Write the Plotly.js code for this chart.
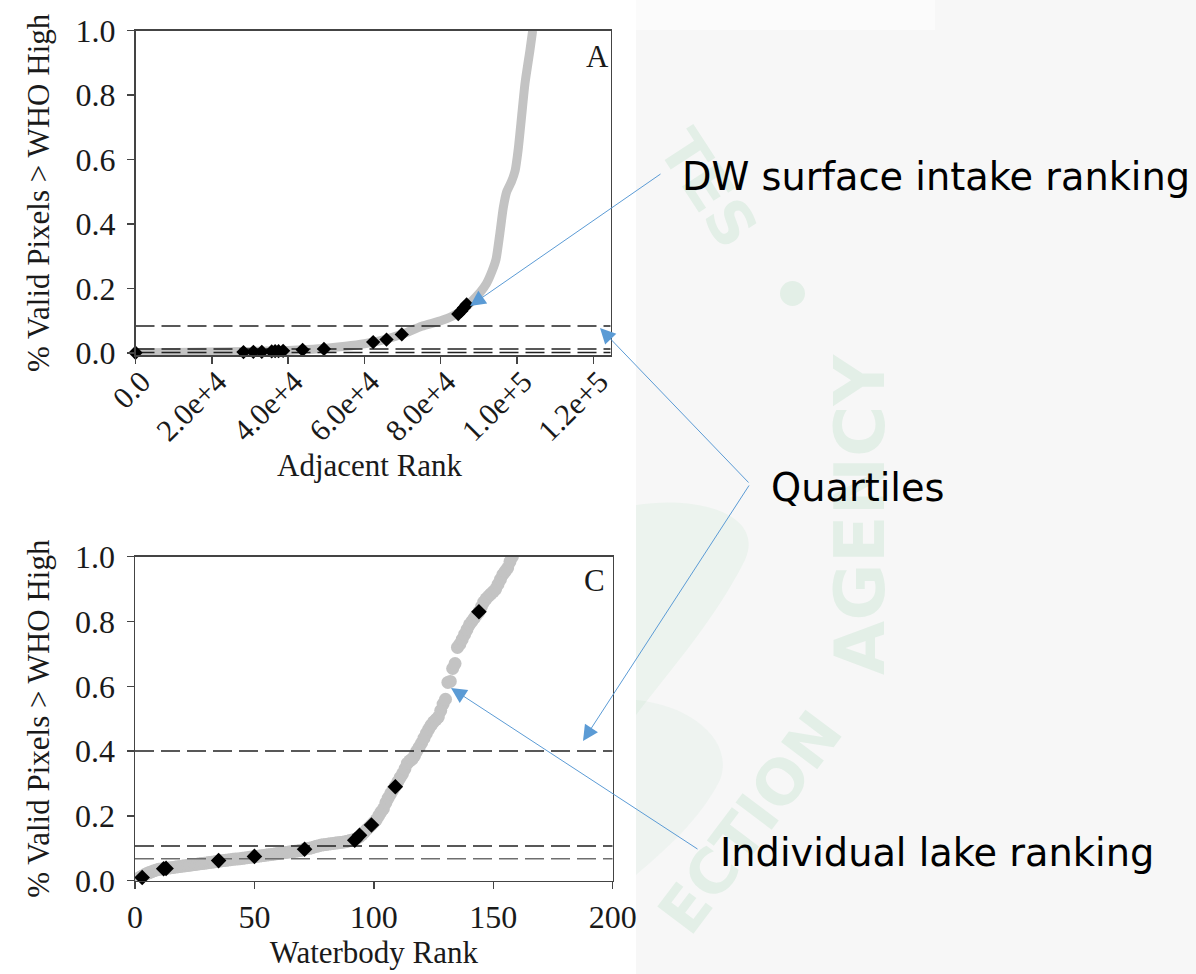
<!DOCTYPE html>
<html>
<head>
<meta charset="utf-8">
<script src="https://cdn.plot.ly/plotly-3.0.1.min.js"></script>
<style>html,body{margin:0;padding:0;background:#fff;}#chart{width:1196px;height:974px;}</style>
</head>
<body>
<div id="chart"></div>
<script>
// ---------- Panel A data (Adjacent Rank) ----------
const adjRankCurve = [0, 10000, 20000, 30000, 40000, 45000, 50000, 55000, 60000, 65000, 70000, 75000, 80000, 83000, 86000, 88500, 90500, 92000, 93500, 94500, 95500, 96400, 97300, 98500, 99500, 100300, 101200, 102100, 103400, 104100];
const adjValCurve  = [0.000, 0.001, 0.002, 0.004, 0.007, 0.010, 0.014, 0.020, 0.028, 0.040, 0.058, 0.082, 0.099, 0.113, 0.135, 0.164, 0.190, 0.215, 0.255, 0.290, 0.370, 0.450, 0.500, 0.530, 0.565, 0.630, 0.733, 0.837, 0.940, 1.000];
const adjIntakeRank = [0, 28300, 30900, 33100, 35700, 36600, 37500, 38700, 43800, 49400, 62300, 65800, 69800, 84600, 85400, 86100, 86800];
const adjIntakeVal  = [0, 0.002, 0.003, 0.003, 0.004, 0.005, 0.005, 0.006, 0.009, 0.012, 0.033, 0.041, 0.057, 0.120, 0.130, 0.140, 0.150];
const adjQuartiles = [0.001, 0.012, 0.083];
const adjTickVals = [0, 20000, 40000, 60000, 80000, 100000, 120000];
const adjTickText = ['0.0', '2.0e+4', '4.0e+4', '6.0e+4', '8.0e+4', '1.0e+5', '1.2e+5'];
const adjXMax = 124560;

// ---------- Panel C data (Waterbody Rank) ----------
const wbVal = [
 0.005, 0.010, 0.014, 0.018, 0.022, 0.025, 0.028, 0.031, 0.033, 0.035,
 0.036, 0.037, 0.038, 0.039, 0.040, 0.041, 0.042, 0.043, 0.044, 0.045,
 0.046, 0.047, 0.048, 0.049, 0.050, 0.051, 0.052, 0.053, 0.054, 0.055,
 0.056, 0.057, 0.058, 0.059, 0.060, 0.061, 0.062, 0.063, 0.064, 0.065,
 0.066, 0.067, 0.067, 0.068, 0.069, 0.070, 0.071, 0.072, 0.073, 0.074,
 0.075, 0.076, 0.077, 0.078, 0.079, 0.080, 0.081, 0.082, 0.083, 0.084,
 0.085, 0.086, 0.087, 0.088, 0.089, 0.090, 0.091, 0.092, 0.093, 0.095,
 0.097, 0.099, 0.100, 0.102, 0.104, 0.106, 0.108, 0.110, 0.111, 0.112,
 0.113, 0.114, 0.115, 0.116, 0.117, 0.118, 0.119, 0.120, 0.122, 0.124,
 0.126, 0.128, 0.131, 0.136, 0.142, 0.150, 0.158, 0.165, 0.172, 0.180,
 0.188, 0.200, 0.212, 0.222, 0.240, 0.255, 0.268, 0.280, 0.292, 0.305,
 0.318, 0.330, 0.345, 0.362, 0.370, 0.375, 0.385, 0.400, 0.412, 0.425,
 0.440, 0.455, 0.468, 0.480, 0.490, 0.497, 0.505, 0.525, 0.545, 0.560,
 0.612, 0.615, 0.655, 0.670, 0.720, 0.730, 0.745, 0.760, 0.775, 0.790,
 0.800, 0.810, 0.820, 0.830, 0.845, 0.860, 0.870, 0.878, 0.885, 0.892,
 0.900, 0.915, 0.930, 0.945, 0.955, 0.965, 0.985, 1.000];
const wbRank = wbVal.map((v, i) => i + 1);
const wbIntakeRank = [3, 12, 13, 35, 50, 71, 92, 94, 99, 109, 144];
const wbIntakeVal  = [0.010, 0.037, 0.038, 0.062, 0.075, 0.097, 0.125, 0.140, 0.172, 0.290, 0.830];
const wbQuartiles = [0.068, 0.107, 0.400];
const wbQuartileColors = ['#6e6e6e', '#222222', '#222222'];
const wbTickVals = [0, 50, 100, 150, 200];
const wbXMax = 200;

const yTickVals = [0, 0.2, 0.4, 0.6, 0.8, 1.0];
const yTickText = ['0.0', '0.2', '0.4', '0.6', '0.8', '1.0'];

// ---------- layout helpers (pixel -> paper) ----------
const W = 1196, H = 974;
const px = x => x / W;
const py = y => 1 - y / H;

const SERIF = 'Liberation Serif, Times New Roman, serif';
const SANS = 'DejaVu Sans, sans-serif';
const GREY = '#c3c3c3';
const BLUE = '#5b9bd5';
const WM = 'rgba(70,185,110,0.11)';

const traces = [];
// Panel A
traces.push({x: adjRankCurve, y: adjValCurve, xaxis: 'x', yaxis: 'y', mode: 'lines',
  line: {color: GREY, width: 9, shape: 'spline', smoothing: 0.6}, hoverinfo: 'skip'});
adjQuartiles.forEach(q => traces.push({x: [0, adjXMax], y: [q, q], xaxis: 'x', yaxis: 'y', mode: 'lines',
  line: {color: '#222', width: 1.5, dash: '19px,7px'}, hoverinfo: 'skip'}));
traces.push({x: adjIntakeRank, y: adjIntakeVal, xaxis: 'x', yaxis: 'y', mode: 'markers', cliponaxis: false,
  marker: {symbol: 'diamond', size: 11, color: '#000'}});
// Panel C
traces.push({x: wbRank, y: wbVal, xaxis: 'x2', yaxis: 'y2', mode: 'markers',
  marker: {symbol: 'circle', size: 13, color: GREY}, hoverinfo: 'skip'});
wbQuartiles.forEach((q, i) => traces.push({x: [0, wbXMax], y: [q, q], xaxis: 'x2', yaxis: 'y2', mode: 'lines',
  line: {color: wbQuartileColors[i], width: 1.5, dash: '19px,7px'}, hoverinfo: 'skip'}));
traces.push({x: wbIntakeRank, y: wbIntakeVal, xaxis: 'x2', yaxis: 'y2', mode: 'markers', cliponaxis: false,
  marker: {symbol: 'diamond', size: 12, color: '#000'}});

const axisCommon = {
  showline: true, linecolor: '#444', linewidth: 1.5, mirror: true,
  ticks: 'outside', ticklen: 7, tickcolor: '#444', tickwidth: 1.5,
  showgrid: false, zeroline: false,
  tickfont: {family: SERIF, size: 32, color: '#1a1a1a'}
};
const yTitle = {text: '% Valid Pixels > WHO High', font: {family: SERIF, size: 31, color: '#1a1a1a'}, standoff: 16};

function arrow(tx, ty, hx, hy) {
  return {x: px(hx), y: py(hy), xref: 'paper', yref: 'paper', ax: px(tx), ay: py(ty), axref: 'paper', ayref: 'paper',
    text: '', showarrow: true, arrowhead: 2, arrowsize: 3.1, arrowwidth: 1, arrowcolor: BLUE, standoff: 0, startstandoff: 0};
}
function text(t, x, y, font, xanchor, angle) {
  return {x: px(x), y: py(y), xref: 'paper', yref: 'paper', xanchor: xanchor || 'center', yanchor: 'middle',
    showarrow: false, text: t, textangle: angle || 0, font: font};
}
const labelFont = {family: SANS, size: 38.3, color: '#000'};
const serifFont = {family: SERIF, size: 31, color: '#1a1a1a'};
const wmFont = s => ({family: 'DejaVu Sans, sans-serif', size: s, color: WM, weight: 'bold'});

const layout = {
  width: W, height: H,
  margin: {l: 0, r: 0, t: 0, b: 0},
  paper_bgcolor: '#ffffff', plot_bgcolor: '#ffffff',
  showlegend: false,
  xaxis: Object.assign({}, axisCommon, {
    domain: [px(135.5), px(610.7)], range: [0, adjXMax], anchor: 'y',
    tickvals: adjTickVals, ticktext: adjTickText, tickangle: -45,
    ticklabelstandoff: -12, ticklabelshift: 6,
    tickfont: {family: SERIF, size: 30.5, color: '#1a1a1a'}
  }),
  yaxis: Object.assign({}, axisCommon, {
    domain: [py(355), py(30.7)], range: [-0.007, 1.0], anchor: 'x', ticklabelstandoff: 5,
    tickvals: yTickVals, ticktext: yTickText, title: yTitle
  }),
  xaxis2: Object.assign({}, axisCommon, {
    domain: [px(135), px(612.7)], range: [0, wbXMax], anchor: 'y2', ticklabelstandoff: 0,
    tickvals: wbTickVals, ticktext: wbTickVals.map(String),
    title: {text: 'Waterbody Rank', font: serifFont, standoff: 6}
  }),
  yaxis2: Object.assign({}, axisCommon, {
    domain: [py(880.7), py(556.7)], range: [0, 1.0], anchor: 'x2', ticklabelstandoff: 5,
    tickvals: yTickVals, ticktext: yTickText, title: yTitle
  }),
  shapes: [
    {type: 'rect', xref: 'paper', yref: 'paper', x0: px(636), x1: 1, y0: 0, y1: 1,
      fillcolor: '#f7f7f7', line: {width: 0}, layer: 'below'},
    {type: 'rect', xref: 'paper', yref: 'paper', x0: px(636), x1: px(935), y0: py(30), y1: 1,
      fillcolor: '#fbfbfb', line: {width: 0}, layer: 'below'},
    // faint watermark leaves and dot
    {type: 'path', xref: 'paper', yref: 'paper', layer: 'below', line: {width: 0}, fillcolor: 'rgba(70,185,110,0.06)',
      path: `M ${px(636)},${py(505)} C ${px(700)},${py(495)} ${px(765)},${py(515)} ${px(745)},${py(560)} C ${px(715)},${py(620)} ${px(670)},${py(670)} ${px(636)},${py(715)} Z`},
    {type: 'path', xref: 'paper', yref: 'paper', layer: 'below', line: {width: 0}, fillcolor: 'rgba(70,185,110,0.05)',
      path: `M ${px(636)},${py(700)} C ${px(690)},${py(705)} ${px(735)},${py(740)} ${px(720)},${py(780)} C ${px(700)},${py(820)} ${px(665)},${py(850)} ${px(636)},${py(875)} Z`},
    {type: 'circle', xref: 'paper', yref: 'paper', layer: 'below', line: {width: 0}, fillcolor: WM,
      x0: px(780), x1: px(805), y0: py(306), y1: py(281)}
  ],
  annotations: [
    text('TES', 708, 188, wmFont(60), 'center', 57),
    text('AGENCY', 860, 515, wmFont(70), 'center', -90),
    text('ECTION', 750, 822, wmFont(62), 'center', -53),
    text('A', 597, 57, serifFont),
    text('C', 594, 580, serifFont),
    text('Adjacent Rank', 370, 466, {family: SERIF, size: 31, color: '#1a1a1a'}),
    text('DW surface intake ranking', 680, 176, labelFont, 'left'),
    text('Quartiles', 769, 487, labelFont, 'left'),
    text('Individual lake ranking', 718, 852, labelFont, 'left'),
    arrow(662, 173, 470, 306),
    arrow(750, 484, 600, 328),
    arrow(750, 484, 583, 741),
    arrow(699, 850, 451, 688)
  ]
};

Plotly.newPlot('chart', traces, layout, {displayModeBar: false, staticPlot: true});
</script>
</body>
</html>
